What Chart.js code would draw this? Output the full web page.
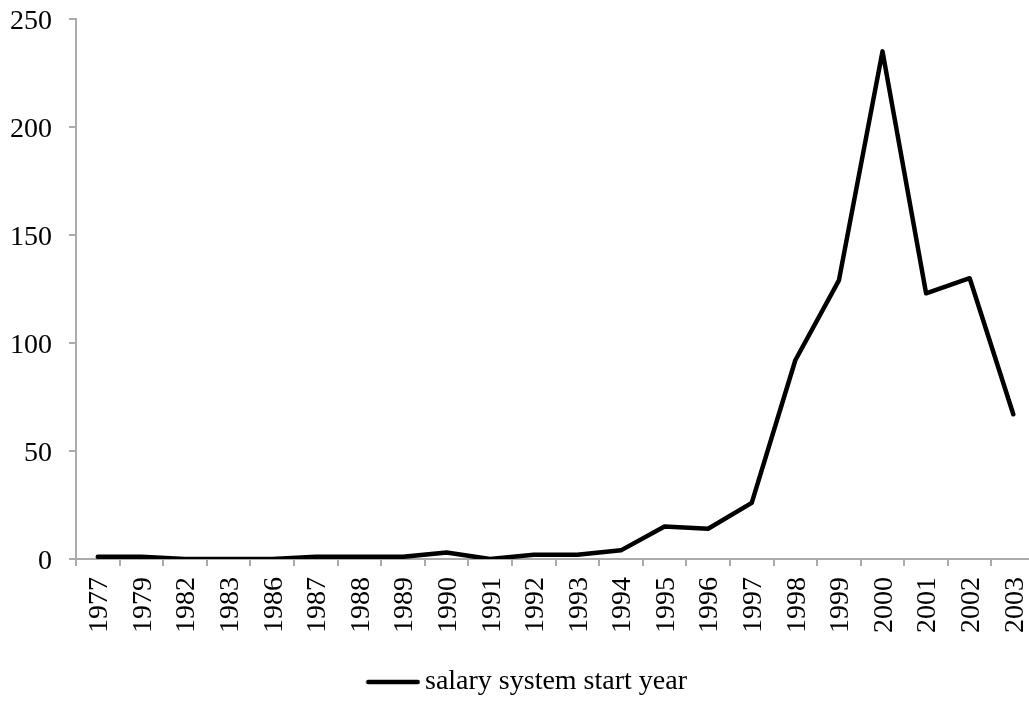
<!DOCTYPE html>
<html>
<head>
<meta charset="utf-8">
<title>salary system start year</title>
<script src="https://cdn.jsdelivr.net/npm/chart.js@4.4.1/dist/chart.umd.min.js"></script>
<style>
  html, body { margin: 0; padding: 0; background: #fff; overflow: hidden; }
  #frame { width: 1029px; height: 703px; overflow: hidden; position: relative; }
  #chart { display: block; }
</style>
</head>
<body>
<div id="frame">
  <canvas id="chart" width="1058" height="703"></canvas>
</div>
<script>
// Start years of salary systems and how many began in each year
const years = ['1977', '1979', '1982', '1983', '1986', '1987', '1988', '1989', '1990', '1991',
               '1992', '1993', '1994', '1995', '1996', '1997', '1998', '1999', '2000', '2001',
               '2002', '2003'];
const counts = [1, 1, 0, 0, 0, 1, 1, 1, 3, 0,
                2, 2, 4, 15, 14, 26, 92, 129, 235, 123,
                130, 67];
const seriesName = 'salary system start year';
const yTicks = [0, 50, 100, 150, 200, 250];

const FONT = '"Liberation Serif", "Times New Roman", serif';
const AXIS_GREY = '#ababab';

// Legend marker: a short thick line with rounded ends, placed close to the label text
function legendLineMarker() {
  const c = document.createElement('canvas');
  c.width = 64;
  c.height = 10;
  const g = c.getContext('2d');
  g.strokeStyle = '#000';
  g.lineWidth = 4.5;
  g.lineCap = 'round';
  g.beginPath();
  g.moveTo(11.75, 5);
  g.lineTo(61.25, 5);
  g.stroke();
  return c;
}

Chart.defaults.font.family = FONT;
Chart.defaults.font.size = 28;
Chart.defaults.color = '#000';

new Chart(document.getElementById('chart'), {
  type: 'line',
  data: {
    labels: years,
    datasets: [{
      label: seriesName,
      data: counts,
      borderColor: '#000',
      backgroundColor: '#000',
      borderWidth: 4.5,
      borderJoinStyle: 'round',
      borderCapStyle: 'round',
      pointRadius: 0,
      pointHoverRadius: 0,
      tension: 0,
      fill: false
    }]
  },
  options: {
    responsive: false,
    devicePixelRatio: 1,
    animation: false,
    events: [],
    layout: { padding: { left: 0, right: 5, top: 19, bottom: -3 } },
    plugins: {
      tooltip: { enabled: false },
      legend: {
        display: true,
        position: 'bottom',
        labels: {
          usePointStyle: true,
          pointStyle: legendLineMarker(),
          pointStyleWidth: 45,
          padding: 5,
          color: '#000',
          font: { family: FONT, size: 28 }
        }
      }
    },
    scales: {
      x: {
        type: 'category',
        offset: true,
        afterFit: (scale) => { scale.height = 104; },
        grid: {
          display: true,
          offset: true,
          drawOnChartArea: false,
          drawTicks: true,
          tickLength: 7,
          color: AXIS_GREY,
          lineWidth: 2
        },
        border: { display: true, color: AXIS_GREY, width: 2 },
        ticks: {
          autoSkip: false,
          minRotation: 90,
          maxRotation: 90,
          padding: 11,
          labelOffset: 2,
          color: '#000',
          font: { family: FONT, size: 28 }
        }
      },
      y: {
        type: 'linear',
        min: 0,
        max: 250,
        afterFit: (scale) => {
          scale.width = 76;
          // the top label may sit right at the canvas edge region; no extra room above it
          scale.paddingTop = 0;
          scale.paddingBottom = 0;
        },
        afterBuildTicks: (scale) => { scale.ticks = yTicks.map(v => ({ value: v })); },
        grid: {
          display: true,
          drawOnChartArea: false,
          drawTicks: true,
          tickLength: 7,
          color: AXIS_GREY,
          lineWidth: 2
        },
        border: { display: true, color: AXIS_GREY, width: 2 },
        ticks: {
          padding: 17,
          labelOffset: 3,
          color: '#000',
          font: { family: FONT, size: 28 }
        }
      }
    }
  }
});
</script>
</body>
</html>
